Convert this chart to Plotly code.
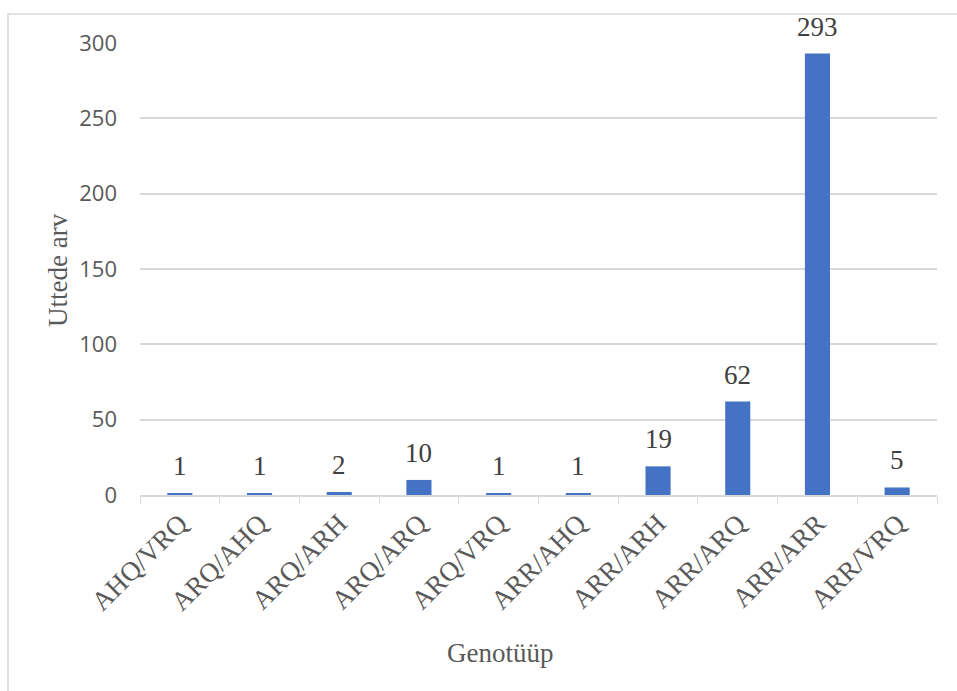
import plotly.graph_objects as go

# Genotype counts
genotypes = ["AHQ/VRQ", "ARQ/AHQ", "ARQ/ARH", "ARQ/ARQ", "ARQ/VRQ",
             "ARR/AHQ", "ARR/ARH", "ARR/ARQ", "ARR/ARR", "ARR/VRQ"]
counts = [1, 1, 2, 10, 1, 1, 19, 62, 293, 5]
y_ticks = [0, 50, 100, 150, 200, 250, 300]

W, H = 957, 691
L, R, T, B = 140, 20, 43, 196
pw, ph = W - L - R, H - T - B

serif = "Liberation Serif, Times New Roman, serif"
sans = "Open Sans, Noto Sans, sans-serif"
grid = "#d9d9d9"
title_font = dict(family=serif, size=27, color="#595959")

fig = go.Figure()
fig.add_trace(go.Bar(
    x=genotypes, y=counts,
    marker=dict(color="#4472C4", line=dict(width=0)),
    hoverinfo="skip",
))

# value labels above each bar
for g, v in zip(genotypes, counts):
    fig.add_annotation(x=g, y=v, text=str(v), showarrow=False,
                       yanchor="bottom", yshift=10,
                       font=dict(family=serif, size=27, color="#404040"))

# axis titles
fig.add_annotation(xref="paper", yref="paper",
                   x=(500 - L) / pw, y=(T + ph - 653) / ph,
                   text="Genotüüp", showarrow=False,
                   xanchor="center", yanchor="middle", font=title_font)
fig.add_annotation(xref="paper", yref="paper",
                   x=(58 - L) / pw, y=(T + ph - 270) / ph,
                   text="Uttede arv", showarrow=False, textangle=-90,
                   xanchor="center", yanchor="middle", font=title_font)

# outer chart frame
fig.add_shape(type="rect", xref="paper", yref="paper",
              x0=(8 - L) / pw, x1=(W + 20 - L) / pw,
              y0=(T + ph - (H + 20)) / ph, y1=(T + ph - 14) / ph,
              line=dict(color=grid, width=1.5), layer="below")

fig.update_layout(
    width=W, height=H,
    margin=dict(l=L, r=R, t=T, b=B),
    paper_bgcolor="white", plot_bgcolor="white",
    bargap=0.685,
    showlegend=False,
    xaxis=dict(
        type="category",
        tickangle=-45,
        tickfont=dict(family=serif, size=27, color="#595959"),
        ticks="outside", tickson="boundaries", ticklen=7, tickcolor=grid,
        showline=True, linecolor=grid, linewidth=1.5,
        showgrid=False,
    ),
    yaxis=dict(
        range=[0, 300],
        tickvals=y_ticks,
        tickfont=dict(family=sans, size=22, color="#595959"),
        showgrid=True, gridcolor=grid, gridwidth=1.5,
        zeroline=False, showline=False,
        ticks="", ticklabelstandoff=22,
    ),
)

fig.write_html("out.html")
